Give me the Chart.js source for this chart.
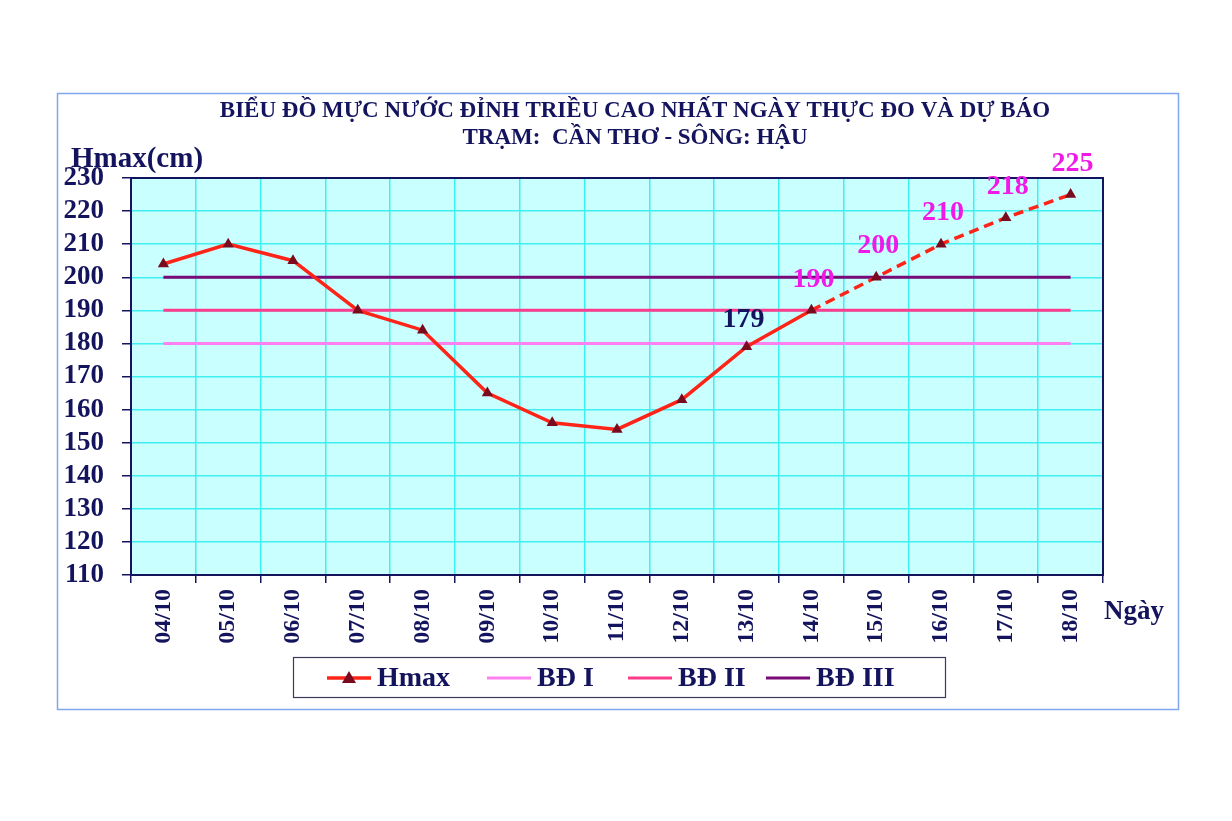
<!doctype html>
<html lang="vi">
<head>
<meta charset="UTF-8">
<title>Biểu đồ mực nước đỉnh triều</title>
<script src="https://cdn.jsdelivr.net/npm/chart.js"></script>
<style>
  body { margin: 0; background: #fff; }
  canvas { display: block; }
</style>
</head>
<body>
<canvas id="chart" width="1232" height="821"></canvas>
<script>
const days = ['04/10', '05/10', '06/10', '07/10', '08/10', '09/10', '10/10', '11/10',
              '12/10', '13/10', '14/10', '15/10', '16/10', '17/10', '18/10'];
const hmax = [204, 210, 205, 190, 184, 165, 156, 154, 163, 179, 190, 200, 210, 218, 225];
const bd1 = days.map(() => 180);
const bd2 = days.map(() => 190);
const bd3 = days.map(() => 200);
const forecastFrom = 10;   // 14/10 onward is dashed
const labelFrom = 9;       // values printed from 13/10

const navy = '#14145e';
const serif = '"Liberation Serif", "Times New Roman", serif';

const frame = {
  id: 'frame',
  beforeDraw(chart) {
    const c = chart.ctx;
    c.save();
    c.fillStyle = '#fff';
    c.fillRect(0, 0, chart.width, chart.height);
    c.strokeStyle = '#7fa6ee';
    c.lineWidth = 1.5;
    c.strokeRect(57.5, 93.5, 1121, 616);
    const a = chart.chartArea;
    c.fillStyle = '#c9ffff';
    c.fillRect(a.left, a.top, a.right - a.left, a.bottom - a.top);
    c.restore();
  },
  afterDatasetsDraw(chart) {
    const c = chart.ctx;
    const a = chart.chartArea;
    c.save();
    c.strokeStyle = navy;
    c.lineWidth = 2;
    c.strokeRect(a.left, a.top, a.right - a.left, a.bottom - a.top);

    // titles
    c.fillStyle = navy;
    c.textAlign = 'center';
    c.textBaseline = 'middle';
    c.font = 'bold 23px ' + serif;
    c.fillText('BIỂU ĐỒ MỰC NƯỚC ĐỈNH TRIỀU CAO NHẤT NGÀY THỰC ĐO VÀ DỰ BÁO', 635, 111);
    c.fillText('TRẠM:  CẦN THƠ - SÔNG: HẬU', 635, 138);
    c.font = 'bold 29px ' + serif;
    c.textAlign = 'left';
    c.fillText('Hmax(cm)', 71, 160);
    c.font = 'bold 27px ' + serif;
    c.fillText('Ngày', 1104, 612);

    // value labels
    const meta = chart.getDatasetMeta(0);
    c.font = 'bold 28px ' + serif;
    c.textAlign = 'center';
    for (let i = labelFrom; i < hmax.length; i++) {
      const p = meta.data[i];
      c.fillStyle = i === labelFrom ? navy : '#f019e6';
      c.fillText(String(hmax[i]), p.x + (i === labelFrom ? -3 : 2), p.y - (i === labelFrom ? 27 : 31));
    }

    // legend
    c.strokeStyle = '#3a3a5a';
    c.lineWidth = 1.2;
    c.strokeRect(293.5, 657.5, 652, 40);
    const items = [
      { x: 327, text: 'Hmax', ds: 0 },
      { x: 487, text: 'BĐ I', ds: 1 },
      { x: 628, text: 'BĐ II', ds: 2 },
      { x: 766, text: 'BĐ III', ds: 3 }
    ];
    c.textAlign = 'left';
    c.font = 'bold 28px ' + serif;
    items.forEach(it => {
      const ds = chart.data.datasets[it.ds];
      c.strokeStyle = ds.borderColor;
      c.lineWidth = ds.borderWidth;
      c.beginPath();
      c.moveTo(it.x, 678);
      c.lineTo(it.x + 44, 678);
      c.stroke();
      if (it.ds === 0) {
        c.fillStyle = '#7a0a1e';
        c.beginPath();
        c.moveTo(it.x + 22, 671);
        c.lineTo(it.x + 29, 683);
        c.lineTo(it.x + 15, 683);
        c.closePath();
        c.fill();
      }
      c.fillStyle = navy;
      c.fillText(it.text, it.x + 50, 679);
    });
    c.restore();
  }
};

const levelLine = (label, data, color) => ({
  label, data, borderColor: color, backgroundColor: color,
  borderWidth: 3, pointRadius: 0, tension: 0
});

new Chart(document.getElementById('chart').getContext('2d'), {
  type: 'line',
  data: {
    labels: days,
    datasets: [
      {
        label: 'Hmax',
        data: hmax,
        borderColor: '#ff2418',
        backgroundColor: '#7a0a1e',
        borderWidth: 3.5,
        pointStyle: 'triangle',
        pointRadius: 6.5,
        pointBorderWidth: 0,
        pointBackgroundColor: '#7a0a1e',
        segment: {
          borderDash: ctx => ctx.p0DataIndex >= forecastFrom ? [10, 6] : undefined
        }
      },
      levelLine('BĐ I', bd1, '#ff80f0'),
      levelLine('BĐ II', bd2, '#ff3c8c'),
      levelLine('BĐ III', bd3, '#7a0a78')
    ].map((d, i) => Object.assign(d, { order: i === 0 ? 0 : 1 }))
  },
  options: {
    responsive: false,
    animation: false,
    layout: { padding: { left: 0, top: 178, right: 129, bottom: 166 } },
    plugins: { legend: { display: false }, tooltip: { enabled: false } },
    scales: {
      x: {
        offset: true,
        grid: { offset: true, color: '#3ff0f0', lineWidth: 1.5, tickColor: navy, tickLength: 8, drawOnChartArea: true },
        border: { color: navy, width: 2 },
        ticks: {
          color: navy, font: { family: serif, size: 24, weight: 'bold' },
          minRotation: 90, maxRotation: 90, padding: 6, autoSkip: false
        },
        afterFit(s) { s.height = 80; }
      },
      y: {
        min: 110, max: 230,
        grid: { color: '#3ff0f0', lineWidth: 1.5, tickColor: navy, tickLength: 9 },
        border: { color: navy, width: 2 },
        ticks: {
          stepSize: 10, color: navy, padding: 18, autoSkip: false,
          font: { family: serif, size: 27, weight: 'bold' }
        },
        afterFit(s) { s.width = 131; }
      }
    }
  },
  plugins: [frame]
});
</script>
</body>
</html>
